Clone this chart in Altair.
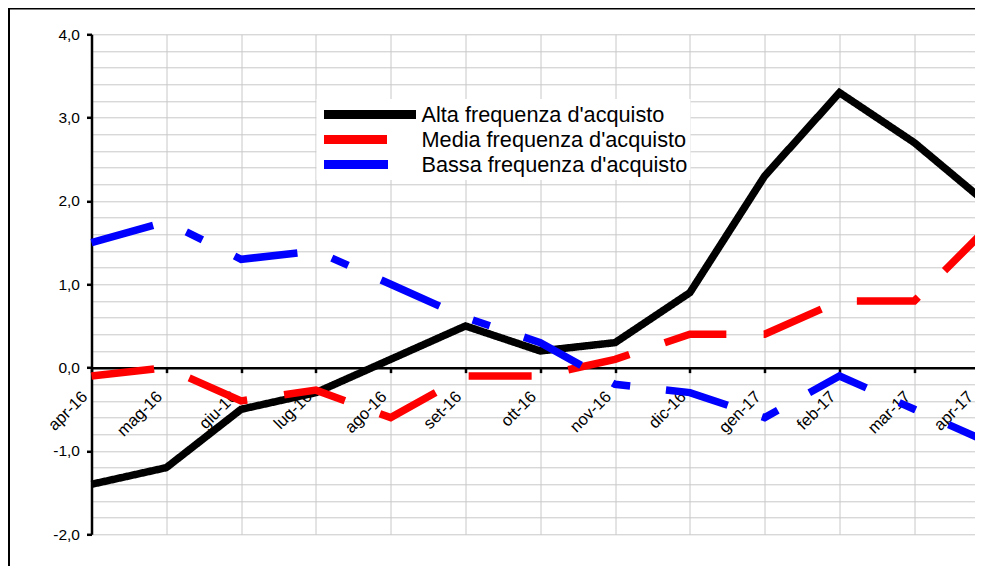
import altair as alt
import pandas as pd

months = ["apr-16", "mag-16", "giu-16", "lug-16", "ago-16", "set-16", "ott-16",
          "nov-16", "dic-16", "gen-17", "feb-17", "mar-17", "apr-17"]
alta = [-1.4, -1.2, -0.5, -0.3, 0.1, 0.5, 0.2, 0.3, 0.9, 2.3, 3.3, 2.7, 1.95]
media = [-0.1, 0.0, -0.4, -0.27, -0.6, -0.1, -0.1, 0.1, 0.4, 0.4, 0.8, 0.8, 1.7]
bassa = [1.5, 1.75, 1.3, 1.4, 1.0, 0.6, 0.3, -0.2, -0.3, -0.6, -0.1, -0.5, -0.9]

series_names = ["Alta frequenza d'acquisto", "Media frequenza d'acquisto",
                "Bassa frequenza d'acquisto"]
series_colors = ["#000000", "#ff0000", "#0000ff"]
series_dashes = [[1, 0], [63, 37.3], [64, 36, 18, 36]]
y_tick_values = [round(-2 + 0.2 * i, 1) for i in range(31)]

rows = []
for name, vals in zip(series_names, [alta, media, bassa]):
    for m, v in zip(months, vals):
        rows.append({"mese": m, "valore": v, "serie": name})
df = pd.DataFrame(rows)

FONT = "Liberation Sans"

legend_cfg = dict(
    title=None, orient="none", legendX=225, legendY=64.7, direction="vertical",
    symbolType="stroke", symbolSize=8464, symbolStrokeWidth=9, clipHeight=25,
    rowPadding=0, labelOffset=1, labelFont=FONT, labelFontSize=21.7,
    labelColor="black", labelLimit=600, fillColor="white", padding=3,
    labelExpr="datum.label + '\u00a0\u00a0\u00a0'",
)

x_enc = alt.X(
    "mese:N", sort=months,
    scale=alt.Scale(type="point", padding=0, range=[0, 897.6]),
    axis=alt.Axis(
        title=None, orient="bottom", offset=-166.67,
        domainColor="black", domainWidth=2.5,
        tickColor="black", tickWidth=2.5, tickSize=5,
        labelAngle=-45, labelAlign="right", labelBaseline="middle",
        labelOffset={"condition": {"test": "datum.value == 'apr-17'", "value": -19}, "value": -7},
        labelPadding=21, labelFont=FONT, labelFontSize=16.5,
        labelColor="black", labelOverlap=False, labelBound=False, labelFlush=False,
        grid=True, gridColor="#c8c8c8", gridWidth=1,
    ),
)

y_enc = alt.Y(
    "valore:Q",
    scale=alt.Scale(domain=[-2, 4], nice=False, zero=False),
    axis=alt.Axis(
        title=None, values=y_tick_values,
        labelExpr="abs(datum.value - round(datum.value)) < 0.001 ? toString(round(datum.value)) + ',0' : ''",
        tickOpacity={"condition": {"test": "abs(datum.value - round(datum.value)) < 0.001", "value": 1}, "value": 0},
        domainColor="black", domainWidth=2.5,
        tickColor="black", tickWidth=2.5, tickSize=5,
        labelPadding=7, labelFont=FONT, labelFontSize=15.5, labelColor="black",
        labelOverlap=False, labelBound=False, labelFlush=False,
        grid=True, gridColor="#c8c8c8", gridWidth=1,
    ),
)

lines = alt.Chart(df).mark_line(strokeWidth=7.5, strokeCap="butt", strokeJoin="miter").encode(
    x=x_enc,
    y=y_enc,
    color=alt.Color("serie:N", sort=series_names,
                    scale=alt.Scale(domain=series_names, range=series_colors),
                    legend=alt.Legend(**legend_cfg)),
    strokeDash=alt.StrokeDash("serie:N", sort=series_names,
                              scale=alt.Scale(domain=series_names, range=series_dashes),
                              legend=alt.Legend(**legend_cfg)),
)

border = alt.Chart(alt.Data(values=[{"k": 1}])).mark_rect(
    filled=False, stroke="black", strokeWidth=2
).encode(
    x=alt.value(-82.5), x2=alt.value(3000), y=alt.value(-25.8), y2=alt.value(3000)
)

chart = alt.layer(lines, border).properties(
    width=883.5, height=500,
    autosize=alt.AutoSizeParams(type="none"),
    padding={"left": 83.5, "top": 26.3, "right": 0, "bottom": 31.7},
    background="white",
).configure_view(strokeWidth=0)

chart.save("out.html", embed_options={"renderer": "svg", "actions": False})
